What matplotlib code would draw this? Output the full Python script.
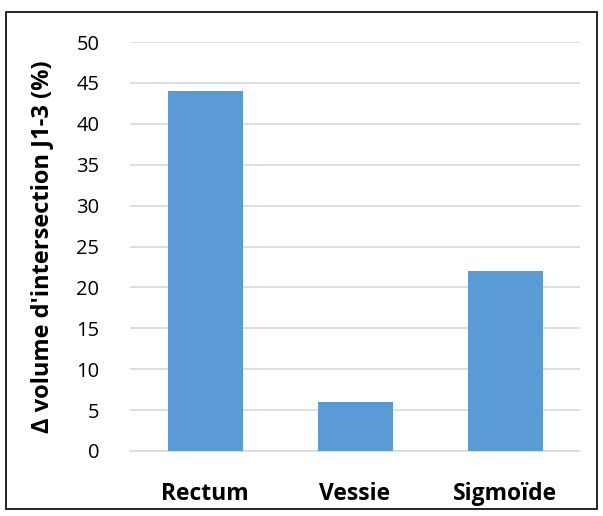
import matplotlib.pyplot as plt
from matplotlib.patches import Rectangle

categories = ["Rectum", "Vessie", "Sigmoïde"]
values = [44, 6, 22]
yticks = [0, 5, 10, 15, 20, 25, 30, 35, 40, 45, 50]

plt.rcParams['font.family'] = ['Open Sans', 'DejaVu Sans']

fig = plt.figure(figsize=(6.03, 5.16), dpi=100)
ax = fig.add_axes([130 / 603, 1 - 451 / 516, 450 / 603, 409 / 516])

x = range(len(categories))
ax.bar(x, values, width=0.5, color="#5B9BD5", zorder=3)

ax.set_xlim(-0.5, len(categories) - 0.5)
ax.set_ylim(0, 50)
ax.set_yticks(yticks)
ax.set_yticklabels([str(t) for t in yticks], fontsize=14.5)
ax.set_xticks(list(x))
ax.set_xticklabels(categories, fontsize=16.5, fontweight="bold")
ax.tick_params(axis="both", length=0)
ax.tick_params(axis="y", pad=22)
ax.tick_params(axis="x", pad=22)
ax.grid(axis="y", color="#D9D9D9", linewidth=1.2, zorder=0)
for s in ["top", "right", "left"]:
    ax.spines[s].set_visible(False)
ax.spines["bottom"].set_color("#D9D9D9")
ax.spines["bottom"].set_linewidth(1.2)

ax.set_ylabel("Δ volume d'intersection J1-3 (%)", fontsize=17, fontweight="bold", labelpad=16)

# black frame around the chart
fig.patches.append(Rectangle((6 / 603, 1 - 509 / 516), 591 / 603, 497 / 516,
                             transform=fig.transFigure, fill=False,
                             edgecolor="black", linewidth=1.2))

fig.savefig("out.png", dpi=100)
